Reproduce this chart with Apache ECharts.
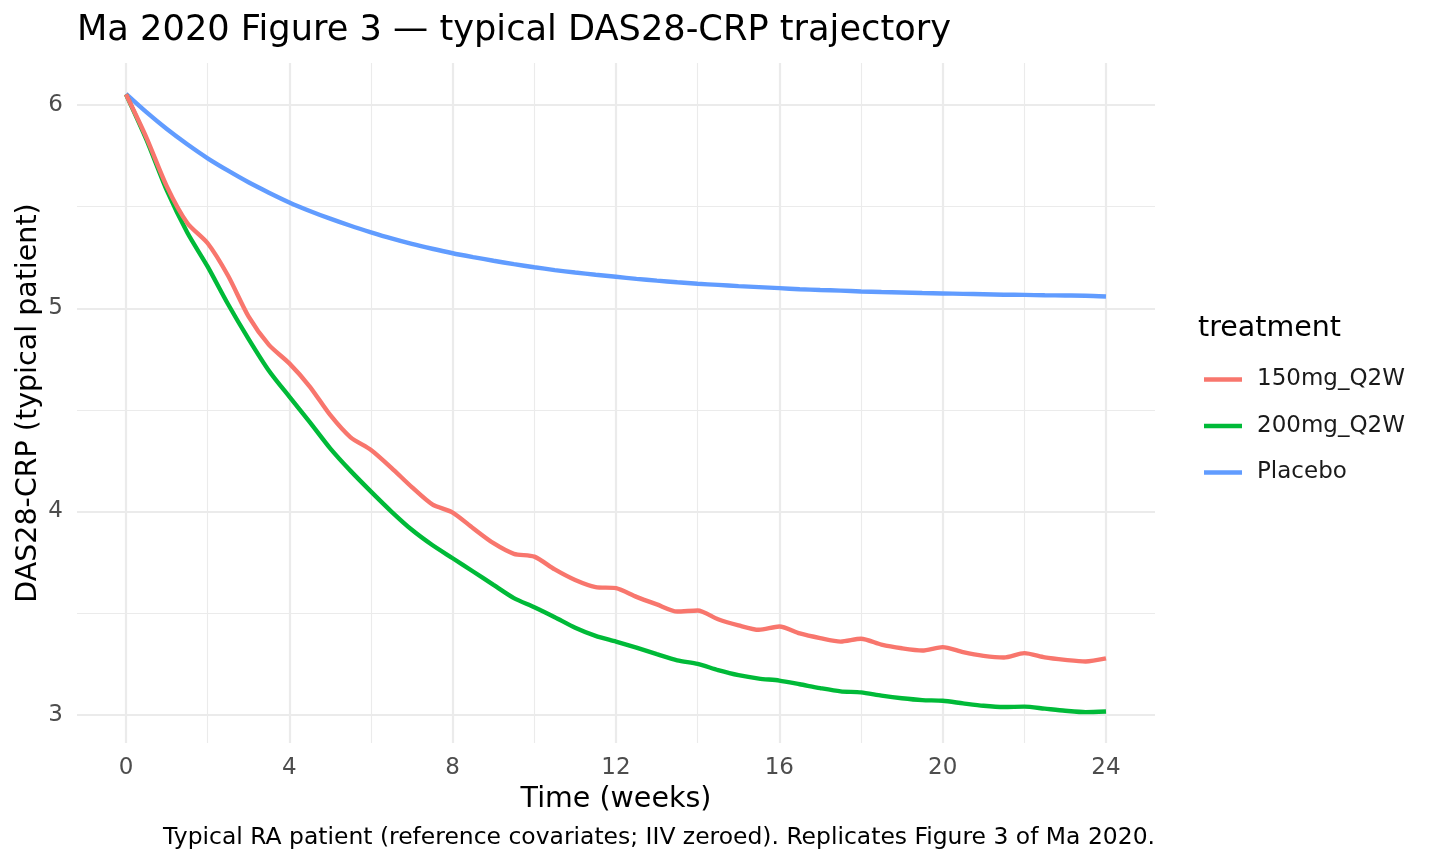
<!DOCTYPE html>
<html>
<head>
<meta charset="utf-8">
<script src="https://cdn.jsdelivr.net/npm/echarts@6/dist/echarts.min.js"></script>
<style>
html,body{margin:0;padding:0;background:#fff;}
#chart{width:1440px;height:864px;}
</style>
</head>
<body>
<div id="chart"></div>
<script>
// ---- data ----
const weeks = [0,0.5,1,1.5,2,2.5,3,3.5,4,4.5,5,5.5,6,6.5,7,7.5,8,8.5,9,9.5,10,10.5,11,11.5,12,12.5,13,13.5,14,14.5,15,15.5,16,16.5,17,17.5,18,18.5,19,19.5,20,20.5,21,21.5,22,22.5,23,23.5,24];
const dose150 = [6.053,5.84,5.60,5.42,5.32,5.16,4.96,4.82,4.729,4.615,4.475,4.365,4.303,4.215,4.12,4.035,3.995,3.918,3.844,3.792,3.778,3.715,3.663,3.628,3.623,3.58,3.543,3.508,3.513,3.47,3.44,3.418,3.434,3.40,3.377,3.36,3.374,3.345,3.327,3.316,3.333,3.308,3.29,3.282,3.303,3.282,3.27,3.262,3.277];
const dose200 = [6.053,5.83,5.58,5.373,5.205,5.02,4.85,4.693,4.565,4.44,4.311,4.20,4.098,4.00,3.91,3.835,3.77,3.705,3.639,3.574,3.529,3.48,3.428,3.388,3.36,3.33,3.298,3.268,3.25,3.22,3.195,3.178,3.168,3.15,3.131,3.115,3.11,3.094,3.081,3.072,3.069,3.056,3.044,3.038,3.04,3.03,3.02,3.013,3.016];
const placebo = [6.055,5.965,5.882,5.807,5.738,5.677,5.62,5.569,5.521,5.479,5.441,5.406,5.374,5.344,5.317,5.293,5.271,5.252,5.234,5.217,5.202,5.188,5.176,5.165,5.155,5.145,5.136,5.128,5.121,5.115,5.109,5.104,5.099,5.094,5.09,5.087,5.083,5.08,5.078,5.075,5.073,5.071,5.069,5.067,5.066,5.064,5.063,5.062,5.058];
const seriesNames = ['150mg_Q2W','200mg_Q2W','Placebo'];
const seriesColors = ['#F8766D','#00BA38','#619CFF'];
const xMajorTicks = [0,4,8,12,16,20,24];
const xMinorTicks = [2,6,10,14,18,22];
const yMajorTicks = [3,4,5,6];
const yMinorTicks = [3.5,4.5,5.5];

const FONT = 'DejaVu Sans';
const pair = (vals) => weeks.map((w,i)=>[w, vals[i]]);
const allVals = [dose150, dose200, placebo];

const chart = echarts.init(document.getElementById('chart'), null, {renderer:'canvas'});

const xRange = {min:-1.2, max:25.2};
const yRange = {min:2.861, max:6.207};

const option = {
  backgroundColor:'#ffffff',
  animation:false,
  textStyle:{fontFamily:FONT},
  title:[
    {text:'Ma 2020 Figure 3 — typical DAS28-CRP trajectory', left:72, top:8,
     textStyle:{fontFamily:FONT, fontSize:35.2, fontWeight:'normal', color:'#000'}},
    {text:'treatment', left:1193, top:309,
     textStyle:{fontFamily:FONT, fontSize:28.5, fontWeight:'normal', color:'#000'}},
    {text:'Typical RA patient (reference covariates; IIV zeroed). Replicates Figure 3 of Ma 2020.',
     right:280, top:821,
     textStyle:{fontFamily:FONT, fontSize:23.45, fontWeight:'normal', color:'#000'}}
  ],
  graphic:[
    {type:'text', x:29, y:403, rotation:Math.PI/2,
     style:{text:'DAS28-CRP (typical patient)', fontFamily:FONT, fontSize:28.5, fill:'#000',
            align:'center', verticalAlign:'middle'}}
  ],
  grid:{left:77, right:285, top:63, bottom:121, containLabel:false},
  legend:{
    orient:'vertical', left:1199, top:363,
    itemWidth:38, itemHeight:4.5, itemGap:23.5, icon:'rect',
    textStyle:{fontFamily:FONT, fontSize:23, color:'#1a1a1a', lineHeight:23, padding:[0,0,0,10]},
    data:seriesNames
  },
  xAxis:[
    {type:'value', min:xRange.min, max:xRange.max,
     name:'Time (weeks)', nameLocation:'middle', nameGap:42,
     nameTextStyle:{fontFamily:FONT, fontSize:28.5, color:'#000'},
     axisLine:{show:false}, axisTick:{show:false, customValues:xMajorTicks},
     axisLabel:{customValues:xMajorTicks, fontFamily:FONT, fontSize:23, color:'#4d4d4d', margin:14},
     splitLine:{show:true, lineStyle:{color:'#ebebeb', width:2.2}}},
    {type:'value', min:xRange.min, max:xRange.max, gridIndex:0,
     axisLine:{show:false}, axisTick:{show:false, customValues:xMinorTicks},
     axisLabel:{show:false, customValues:xMinorTicks},
     splitLine:{show:true, lineStyle:{color:'#ebebeb', width:1.1}}}
  ],
  yAxis:[
    {type:'value', min:yRange.min, max:yRange.max,
     axisLine:{show:false}, axisTick:{show:false, customValues:yMajorTicks},
     axisLabel:{customValues:yMajorTicks, fontFamily:FONT, fontSize:23, color:'#4d4d4d', margin:14},
     splitLine:{show:true, lineStyle:{color:'#ebebeb', width:2.2}}},
    {type:'value', min:yRange.min, max:yRange.max, gridIndex:0,
     axisLine:{show:false}, axisTick:{show:false, customValues:yMinorTicks},
     axisLabel:{show:false, customValues:yMinorTicks},
     splitLine:{show:true, lineStyle:{color:'#ebebeb', width:1.1}}}
  ],
  series: seriesNames.map((n,i)=>({
    name:n, type:'line', xAxisIndex:0, yAxisIndex:0,
    data:pair(allVals[i]), showSymbol:false, symbol:'none',
    smooth:0.25,
    lineStyle:{color:seriesColors[i], width:4.4},
    itemStyle:{color:seriesColors[i]},
    z: 3 - i
  }))
};
chart.setOption(option);
</script>
</body>
</html>
